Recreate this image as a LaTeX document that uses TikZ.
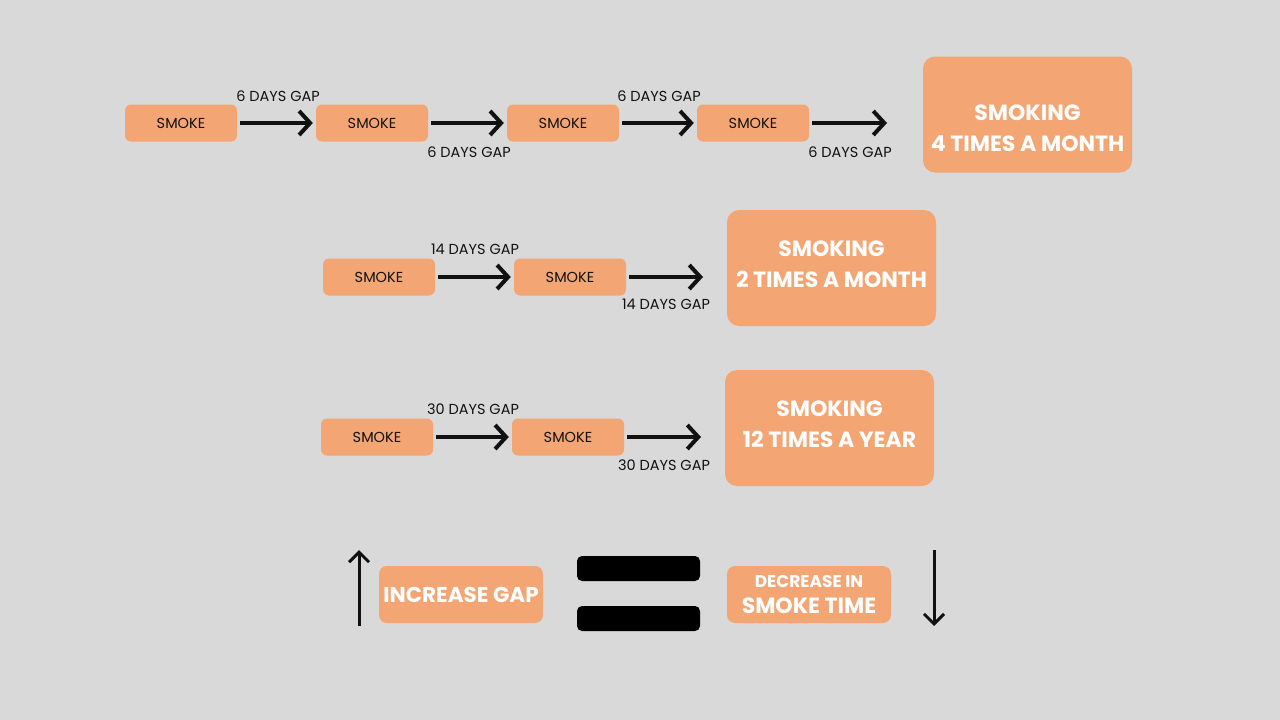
\documentclass[tikz,border=0pt]{standalone}
\usepackage{fontspec}
\setmainfont{Poppins}
\usetikzlibrary{arrows.meta}
\definecolor{bg}{HTML}{D9D9D9}
\definecolor{org}{HTML}{F3A673}
\definecolor{ink}{HTML}{111111}
\tikzset{
 smk/.style={fill=org, rounded corners=6pt, minimum width=112pt, minimum height=37pt, inner sep=0pt, font=\fontsize{14.5}{16}\selectfont, text=ink},
 big/.style={fill=org, rounded corners=12pt, minimum width=209pt, minimum height=116pt, inner sep=0pt},
 bigtxt/.style={font=\fontsize{22}{31}\selectfont\bfseries, text=white, align=center, inner sep=0pt},
 arr/.style={line width=4pt, -{Straight Barb[length=11pt,width=24pt]}, ink, shorten <=3pt, shorten >=3pt},
 varr/.style={line width=3pt, -{Straight Barb[length=10pt,width=20pt]}, ink},
 lbl/.style={font=\fontsize{14.5}{16}\selectfont, inner sep=0pt, text=ink},
 mid/.style={fill=org, rounded corners=8pt, minimum width=164pt, minimum height=57pt, inner sep=0pt, text=white, align=center},
 bar/.style={fill=black, rounded corners=5pt, minimum width=123pt, minimum height=25pt, inner sep=0pt}
}
\begin{document}
\begin{tikzpicture}[x=1pt,y=-1pt]
\useasboundingbox[fill=bg] (0,0) rectangle (1280,720);
% row 1
\node[smk] (a1) at (181,123) {SMOKE};
\node[smk] (a2) at (372,123) {SMOKE};
\node[smk] (a3) at (563,123) {SMOKE};
\node[smk] (a4) at (753,123) {SMOKE};
\coordinate (a5) at (890,123);
\draw[arr] (a1) -- (a2);
\draw[arr] (a2) -- (a3);
\draw[arr] (a3) -- (a4);
\draw[arr] (a4) -- (a5);
\node[lbl] (l1) at (278,96) {6 DAYS GAP};
\node[lbl] (l2) at (469,152) {6 DAYS GAP};
\node[lbl] (l3) at (659,96) {6 DAYS GAP};
\node[lbl] (l4) at (850,152) {6 DAYS GAP};
\node[big] (b1) at (1027.5,114.5) {};
\node[bigtxt] (t1) at (1027.5,128.5) {SMOKING\\4 TIMES A MONTH};
% row 2
\node[smk] (c1) at (379,277) {SMOKE};
\node[smk] (c2) at (570,277) {SMOKE};
\coordinate (c3) at (706,277);
\draw[arr] (c1) -- (c2);
\draw[arr] (c2) -- (c3);
\node[lbl] (m1) at (475,249) {14 DAYS GAP};
\node[lbl] (m2) at (666,304) {14 DAYS GAP};
\node[big] (b2) at (831.5,268) {};
\node[bigtxt] (t2) at (831.5,264) {SMOKING\\2 TIMES A MONTH};
% row 3
\node[smk] (d1) at (377,437) {SMOKE};
\node[smk] (d2) at (568,437) {SMOKE};
\coordinate (d3) at (704,437);
\draw[arr] (d1) -- (d2);
\draw[arr] (d2) -- (d3);
\node[lbl] (n1) at (473,409) {30 DAYS GAP};
\node[lbl] (n2) at (664,465) {30 DAYS GAP};
\node[big] (b3) at (829.5,428) {};
\node[bigtxt] (t3) at (829.5,424.5) {SMOKING\\12 TIMES A YEAR};
% bottom
\coordinate (u0) at (359,626);
\coordinate (u1) at (359,550);
\draw[varr] (u0) -- (u1);
\node[mid, font=\fontsize{21.5}{24}\selectfont\bfseries] (inc) at (461,594.5) {INCREASE GAP};
\node[bar] (e1) at (638.5,568.5) {};
\node[bar] (e2) at (638.5,618.5) {};
\node[mid, font=\fontsize{22}{26}\selectfont\bfseries] (dec) at (809,594.5) {{\fontsize{17}{26}\selectfont DECREASE IN}\\{SMOKE TIME}};
\coordinate (w0) at (934,550);
\coordinate (w1) at (934,626);
\draw[varr] (w0) -- (w1);
\end{tikzpicture}
\end{document}
